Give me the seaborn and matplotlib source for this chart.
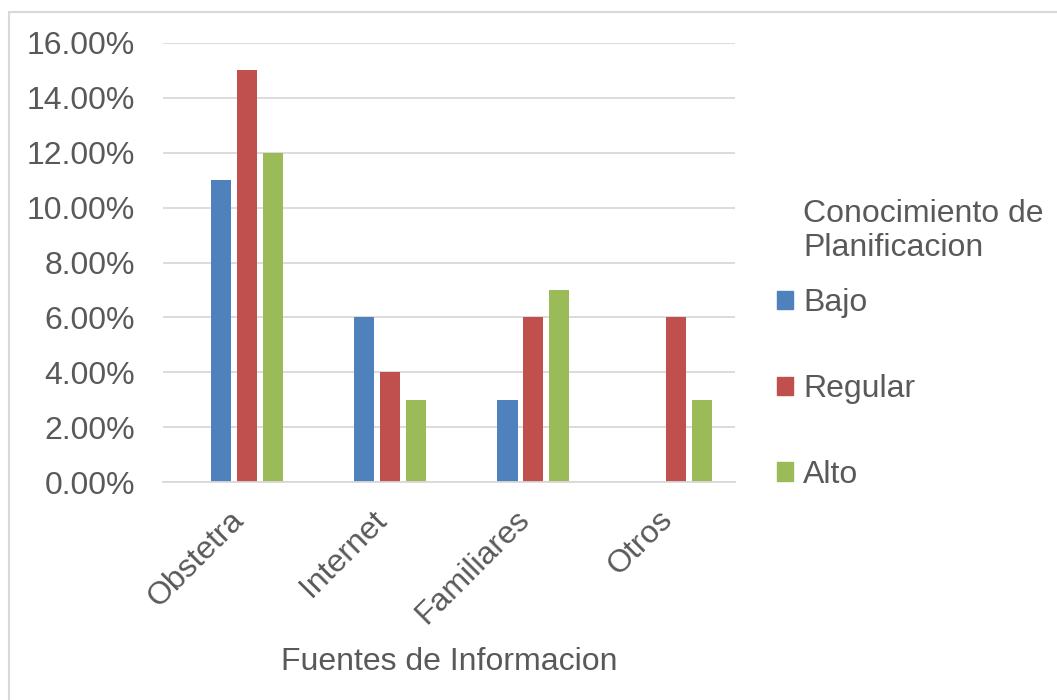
import matplotlib
matplotlib.use("Agg")
import matplotlib.pyplot as plt
import matplotlib.patches as mpatches
from matplotlib.ticker import FuncFormatter
from matplotlib.transforms import ScaledTranslation
import seaborn as sns
import pandas as pd

categorias = ["Obstetra", "Internet", "Familiares", "Otros"]
niveles = ["Bajo", "Regular", "Alto"]
bajo = [0.11, 0.06, 0.03, 0.0]
regular = [0.15, 0.04, 0.06, 0.06]
alto = [0.12, 0.03, 0.07, 0.03]
colores = ["#4F81BD", "#C0504D", "#9BBB59"]

filas = []
for nivel, valores in zip(niveles, [bajo, regular, alto]):
    for cat, v in zip(categorias, valores):
        filas.append({"Fuente": cat, "Nivel": nivel, "Valor": v})
df = pd.DataFrame(filas)

sns.set_theme(style="white")
plt.rcParams["font.family"] = ["Liberation Sans", "DejaVu Sans"]
texto = "#595959"
W, H = 1057, 700

fig = plt.figure(figsize=(W / 100, H / 100), dpi=100)
ax = fig.add_axes([163 / W, 1 - 482 / H, (735 - 163) / W, (482 - 43) / H])

sns.barplot(data=df, x="Fuente", y="Valor", hue="Nivel", order=categorias,
            hue_order=niveles, palette=colores, width=0.54, gap=0.22,
            saturation=1, ax=ax, legend=False, linewidth=0)

ax.set_ylim(0, 0.16)
ax.set_xlim(-0.587, 3.41)
ax.set_yticks([i * 0.02 for i in range(9)])
ax.yaxis.set_major_formatter(FuncFormatter(lambda v, p: f"{v * 100:.2f}%"))
ax.grid(axis="y", color="#D9D9D9", linewidth=1.3)
ax.set_axisbelow(True)
for s in ["top", "right", "left"]:
    ax.spines[s].set_visible(False)
ax.spines["bottom"].set_color("#D9D9D9")
ax.spines["bottom"].set_linewidth(1.3)
ax.tick_params(axis="both", length=0, labelsize=23, colors=texto)
ax.tick_params(axis="y", pad=20)
ax.tick_params(axis="x", pad=24)
shift = ScaledTranslation(-8 / 100, 0, fig.dpi_scale_trans)
for lbl in ax.get_xticklabels():
    lbl.set_rotation(45)
    lbl.set_ha("right")
    lbl.set_va("center")
    lbl.set_rotation_mode("anchor")
    lbl.set_transform(lbl.get_transform() + shift)

ax.set_ylabel("")
ax.set_xlabel("Fuentes de Informacion", fontsize=23, color=texto, labelpad=12)

# legend title drawn as text, entries as a legend below it
fig.text(803 / W, 1 - 231 / H, "Conocimiento de\nPlanificacion", fontsize=23,
         color=texto, ha="left", va="center", linespacing=1.2)
handles = [mpatches.Patch(color=c, label=n) for c, n in zip(colores, niveles)]
leg = fig.legend(handles=handles, loc="center left",
                 bbox_to_anchor=(777 / W, 1 - 389 / H),
                 frameon=False, fontsize=23, borderpad=0, borderaxespad=0,
                 handlelength=0.5, handleheight=0.5, handletextpad=0.31,
                 labelspacing=1.75, labelcolor=texto)

# chart frame
fig.add_artist(plt.Line2D([9 / W, 9 / W], [0, 1 - 12 / H],
                          color="#D9D9D9", linewidth=1.5))
fig.add_artist(plt.Line2D([9 / W, 1], [1 - 12 / H, 1 - 12 / H],
                          color="#D9D9D9", linewidth=1.5))

fig.savefig("out.png", dpi=100)
